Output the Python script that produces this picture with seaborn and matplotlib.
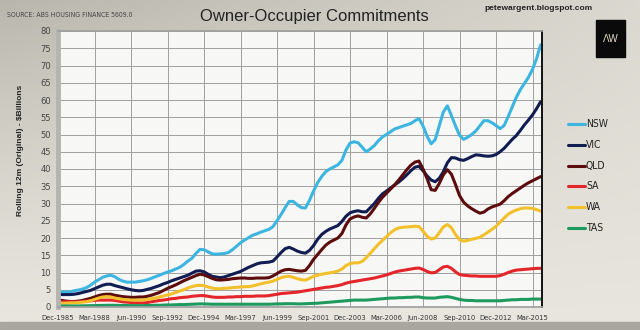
import numpy as np
import pandas as pd
import matplotlib
matplotlib.use("Agg")
import matplotlib.pyplot as plt
from matplotlib import font_manager
from matplotlib.lines import Line2D
from matplotlib.patches import Rectangle
import seaborn as sns

# Rolling 12-month owner-occupier commitments, $ billions, quarterly from Dec-1985
nsw = [4.5, 4.4, 4.3, 4.4, 4.7, 4.9, 5.2, 5.6,
       6.3, 7.2, 7.9, 8.6, 9.0, 9.2, 8.8, 8.0,
       7.5, 7.2, 7.2, 7.2, 7.4, 7.6, 7.9, 8.3,
       8.8, 9.2, 9.7, 10.1, 10.5, 11.0, 11.5, 12.3,
       13.3, 14.1, 15.5, 16.7, 16.6, 16.0, 15.4, 15.3,
       15.4, 15.5, 15.8, 16.6, 17.6, 18.6, 19.4, 20.1,
       20.8, 21.2, 21.7, 22.1, 22.5, 23.3, 25.0, 26.8,
       28.8, 30.6, 30.6, 29.6, 28.8, 28.7, 30.9, 33.6,
       36.0, 37.8, 39.2, 40.0, 40.6, 41.2, 42.5, 45.5,
       47.5, 47.9, 47.6, 46.3, 45.0, 45.8, 46.8, 48.2,
       49.3, 50.0, 50.8, 51.6, 52.0, 52.4, 52.8, 53.2,
       54.0, 54.6, 52.5, 49.5, 47.3, 48.5, 52.5, 56.5,
       58.3, 55.5, 52.5, 49.8, 48.6, 49.2, 50.0, 51.0,
       52.5, 54.0, 54.0, 53.4, 52.6, 51.7, 52.6, 55.2,
       58.0, 60.8, 63.0, 64.8, 66.6, 68.9, 72.0, 76.0]

vic = [3.7, 3.6, 3.6, 3.6, 3.7, 3.9, 4.2, 4.5,
       4.8, 5.3, 5.8, 6.3, 6.6, 6.6, 6.2, 5.9,
       5.6, 5.3, 5.0, 4.8, 4.7, 4.8, 5.1, 5.4,
       5.8, 6.2, 6.7, 7.1, 7.6, 8.0, 8.4, 8.8,
       9.2, 9.8, 10.4, 10.5, 10.2, 9.5, 8.9, 8.7,
       8.5, 8.7, 9.1, 9.5, 9.9, 10.3, 10.9, 11.5,
       12.0, 12.5, 12.8, 12.9, 13.0, 13.3, 14.5, 15.8,
       16.9, 17.3, 16.8, 16.2, 15.8, 15.6, 16.4, 17.8,
       19.6, 21.0, 21.9, 22.6, 23.1, 23.6, 24.8, 26.3,
       27.3, 27.7, 27.9, 27.6, 27.6, 28.8, 30.0, 31.5,
       32.8, 33.6, 34.5, 35.4, 36.2, 37.2, 38.3, 39.5,
       40.5, 40.8, 39.5, 38.0, 36.8, 36.3, 37.3, 39.2,
       41.8, 43.3, 43.2, 42.7, 42.5, 43.0, 43.6, 44.1,
       44.0, 43.8, 43.7, 43.8, 44.2, 45.0, 46.0, 47.3,
       48.6, 49.7, 51.2, 52.8, 54.2, 55.7, 57.5, 59.5]

qld = [2.0, 1.9, 1.7, 1.6, 1.6, 1.7, 1.9, 2.2,
       2.5, 2.9, 3.3, 3.6, 3.7, 3.7, 3.4, 3.2,
       3.0, 2.9, 2.8, 2.8, 2.9, 2.9, 3.1, 3.4,
       3.8, 4.2, 4.8, 5.4, 5.9, 6.4, 7.0, 7.6,
       8.1, 8.6, 9.1, 9.5, 9.3, 8.8, 8.3, 7.9,
       7.8, 7.9, 8.0, 8.2, 8.3, 8.4, 8.4, 8.3,
       8.3, 8.4, 8.4, 8.4, 8.5, 9.0, 9.7, 10.4,
       10.8, 10.9, 10.7, 10.5, 10.4, 10.6, 12.0, 13.8,
       15.2, 16.6, 17.9, 18.8, 19.4, 20.0, 21.3, 23.8,
       25.5, 26.1, 26.4, 26.0, 25.8, 27.0, 28.6, 30.3,
       31.8, 33.0, 34.2, 35.4, 36.8, 38.3, 39.8, 41.1,
       42.0, 42.3, 40.0, 37.2, 34.0, 33.8, 35.8, 38.3,
       39.8, 38.5, 35.5, 32.3, 30.4, 29.3, 28.5, 27.8,
       27.2, 27.5, 28.4, 29.0, 29.4, 29.8, 30.8, 32.0,
       32.9, 33.7, 34.5, 35.3, 36.0, 36.6, 37.2, 37.8]

sa = [1.5, 1.5, 1.5, 1.5, 1.5, 1.5, 1.6, 1.7,
      1.8, 1.9, 2.0, 2.0, 2.0, 2.0, 1.9, 1.7,
      1.5, 1.4, 1.3, 1.2, 1.2, 1.2, 1.3, 1.5,
      1.7, 1.9, 2.0, 2.2, 2.4, 2.5, 2.7, 2.8,
      2.9, 3.1, 3.2, 3.3, 3.3, 3.1, 2.9, 2.8,
      2.8, 2.8, 2.9, 2.9, 3.0, 3.0, 3.1, 3.1,
      3.1, 3.2, 3.2, 3.2, 3.3, 3.5, 3.7, 3.9,
      4.0, 4.1, 4.2, 4.3, 4.5, 4.7, 4.9, 5.1,
      5.3, 5.5, 5.7, 5.8, 6.0, 6.2, 6.5, 6.9,
      7.2, 7.4, 7.6, 7.8, 8.0, 8.2, 8.4, 8.7,
      9.0, 9.3, 9.7, 10.1, 10.4, 10.6, 10.8, 11.0,
      11.2, 11.3, 10.9, 10.3, 9.9, 10.0, 10.8, 11.6,
      11.8, 11.2, 10.2, 9.4, 9.2, 9.1, 9.0, 9.0,
      8.9, 8.9, 8.9, 8.9, 8.9, 9.1, 9.5, 10.0,
      10.4, 10.7, 10.8, 10.9, 11.0, 11.1, 11.2, 11.2]

wa = [1.1, 1.1, 1.1, 1.2, 1.2, 1.3, 1.4, 1.5,
      1.8, 2.2, 2.6, 2.9, 3.0, 2.9, 2.6, 2.4,
      2.2, 2.1, 2.0, 2.0, 2.0, 2.0, 2.2, 2.4,
      2.6, 2.9, 3.2, 3.5, 3.8, 4.2, 4.6, 5.0,
      5.5, 5.9, 6.2, 6.3, 6.2, 5.8, 5.5, 5.3,
      5.3, 5.4, 5.5, 5.6, 5.7, 5.8, 5.9, 5.9,
      6.1, 6.4, 6.7, 7.0, 7.2, 7.5, 8.0, 8.5,
      8.8, 8.9, 8.6, 8.2, 7.9, 7.8, 8.3, 8.9,
      9.2, 9.5, 9.7, 9.9, 10.1, 10.4, 11.0, 12.0,
      12.6, 12.8, 12.8, 13.2, 14.3, 15.6, 16.9, 18.2,
      19.3, 20.4, 21.5, 22.4, 22.9, 23.1, 23.2, 23.3,
      23.4, 23.3, 22.0, 20.5, 19.7, 20.0, 21.5, 23.2,
      23.9, 23.0, 21.0, 19.5, 19.1, 19.3, 19.6, 19.9,
      20.2, 20.9, 21.7, 22.5, 23.4, 24.6, 25.8, 26.9,
      27.6, 28.1, 28.5, 28.7, 28.7, 28.6, 28.2, 27.8]

tas = [0.3, 0.3, 0.3, 0.3, 0.3, 0.3, 0.35, 0.35,
       0.4, 0.4, 0.45, 0.45, 0.5, 0.5, 0.5, 0.45,
       0.45, 0.45, 0.4, 0.4, 0.4, 0.4, 0.45, 0.45,
       0.5, 0.5, 0.55, 0.6, 0.6, 0.65, 0.7, 0.7,
       0.75, 0.8, 0.85, 0.9, 0.9, 0.85, 0.8, 0.8,
       0.8, 0.8, 0.8, 0.8, 0.8, 0.8, 0.8, 0.8,
       0.8, 0.8, 0.8, 0.8, 0.8, 0.85, 0.9, 0.9,
       0.95, 0.95, 0.95, 0.9, 0.9, 0.95, 1.0, 1.05,
       1.1, 1.2, 1.3, 1.4, 1.5, 1.6, 1.7, 1.8,
       1.9, 2.0, 2.0, 2.0, 2.0, 2.1, 2.2, 2.3,
       2.4, 2.5, 2.6, 2.6, 2.7, 2.7, 2.8, 2.8,
       2.9, 2.9, 2.7, 2.6, 2.6, 2.6, 2.8, 2.9,
       3.0, 2.8, 2.5, 2.2, 2.0, 1.9, 1.9, 1.8,
       1.8, 1.8, 1.8, 1.8, 1.8, 1.8, 1.9, 2.0,
       2.1, 2.1, 2.2, 2.2, 2.2, 2.3, 2.3, 2.3]

states = ["NSW", "VIC", "QLD", "SA", "WA", "TAS"]
colors = ["#3cb6e0", "#101c52", "#5c0c0c", "#e4252a", "#f2c02a", "#1f9a5e"]
tick_labels = ["Dec-1985", "Mar-1988", "Jun-1990", "Sep-1992", "Dec-1994",
               "Mar-1997", "Jun-1999", "Sep-2001", "Dec-2003", "Mar-2006",
               "Jun-2008", "Sep-2010", "Dec-2012", "Mar-2015"]

series = dict(zip(states, [nsw, vic, qld, sa, wa, tas]))
months = np.arange(len(nsw)) * 3          # months since Dec-1985
df = pd.DataFrame(series)
df["month"] = months
long = df.melt(id_vars="month", var_name="state", value_name="value")

sns.set_theme(style="white")
plt.rcParams["font.family"] = ["Liberation Sans", "DejaVu Sans"]

# pick a condensed face for the small labels if one is installed
installed = {(f.name, f.stretch) for f in font_manager.fontManager.ttflist}
names = {n for n, _ in installed}
if "Liberation Sans Narrow" in names:
    small = dict(family="Liberation Sans Narrow")
    shrink = 1.0
elif ("DejaVu Sans", "condensed") in installed or ("DejaVu Sans", 700) in installed:
    small = dict(family="DejaVu Sans", fontstretch="condensed")
    shrink = 0.9
else:
    small = dict(family="Liberation Sans")
    shrink = 0.85

W, H = 640, 330
fig = plt.figure(figsize=(6.4, 3.3), dpi=100)

# greyish page background, darker towards the top-left, dark strip at the bottom
bg = fig.add_axes([0, 0, 1, 1], zorder=-10)
gx = np.linspace(0, 1, 200)[None, :]
gy = np.linspace(0, 1, 120)[:, None]
shade = 0.6 * (1 - gx) * (1 - gy) ** 1.5 + 0.25 * (1 - gy)
base = np.array([232, 230, 222]) / 255
dark = np.array([176, 174, 164]) / 255
img = base[None, None, :] * (1 - shade[..., None]) + dark[None, None, :] * shade[..., None]
bg.imshow(img, extent=[0, 1, 0, 1], aspect="auto", origin="upper")
bg.add_patch(Rectangle((0, 0), 1, 8 / H, color="#a8a69e", transform=bg.transAxes))
bg.set_axis_off()


def fx(px):
    return px / W


def fy(py):
    return 1 - py / H


ax = fig.add_axes([fx(58), fy(307), fx(542) - fx(58), fy(31) - fy(307)])
ax.set_facecolor("#f7f7f5")

sns.lineplot(data=long, x="month", y="value", hue="state", hue_order=states,
             palette=colors, linewidth=2.2, legend=False, ax=ax)

ax.set_xlim(0, 358)
ax.set_ylim(0, 80)
ax.set_yticks(np.arange(0, 81, 5))
ax.set_xticks(np.arange(len(tick_labels)) * 27)
ax.set_xticklabels(tick_labels, fontsize=6 * shrink, color="#333333", **small)
ax.set_yticklabels([str(v) for v in range(0, 81, 5)], fontsize=7.5 * shrink,
                   color="#444444", **small)
ax.tick_params(axis="both", length=3, width=0.6, color="#888888", pad=2)
ax.tick_params(axis="x", pad=3)
ax.grid(True, color="#a0a0a0", linewidth=0.7)
ax.set_axisbelow(True)
ax.set_xlabel("")
ax.set_ylabel("")
ax.spines["left"].set_color("#b4b4b0")
ax.spines["left"].set_linewidth(3.5)
ax.spines["right"].set_color("#111111")
ax.spines["right"].set_linewidth(1.4)
ax.spines["top"].set_color("#a0a0a0")
ax.spines["bottom"].set_color("#a0a0a0")

fig.text(fx(21), fy(150), "Rolling 12m (Original) - $Billions", rotation=90,
         ha="center", va="center", fontsize=6, fontweight="bold",
         color="#222222")

fig.text(fx(314), fy(16), "Owner-Occupier Commitments", ha="center",
         va="center", fontsize=12, color="#222222")
fig.text(fx(7), fy(15), "SOURCE: ABS HOUSING FINANCE 5609.0", ha="left",
         va="center", fontsize=5.5 * shrink, color="#444444", **small)
fig.text(fx(538), fy(8), "petewargent.blogspot.com", ha="center",
         va="center", fontsize=6, fontweight="bold", color="#222222")

# monogram badge
fig.patches.append(Rectangle((fx(596), fy(57)), fx(625) - fx(596), fy(20) - fy(57),
                             transform=fig.transFigure, color="#0a0a0a"))
fig.text(fx(610.5), fy(38.5), "\u039bW", ha="center", va="center",
         fontsize=7, color="#e6dcc0")

# legend on the right
for i, (name, col) in enumerate(zip(states, colors)):
    py = 124 + i * 20.8
    fig.add_artist(Line2D([fx(568), fx(585)], [fy(py), fy(py)], color=col,
                          linewidth=2.2, transform=fig.transFigure))
    fig.text(fx(586), fy(py), name, ha="left", va="center",
             fontsize=8 * shrink + 0.3, color="#222222", **small)

fig.savefig("out.png", dpi=100)
